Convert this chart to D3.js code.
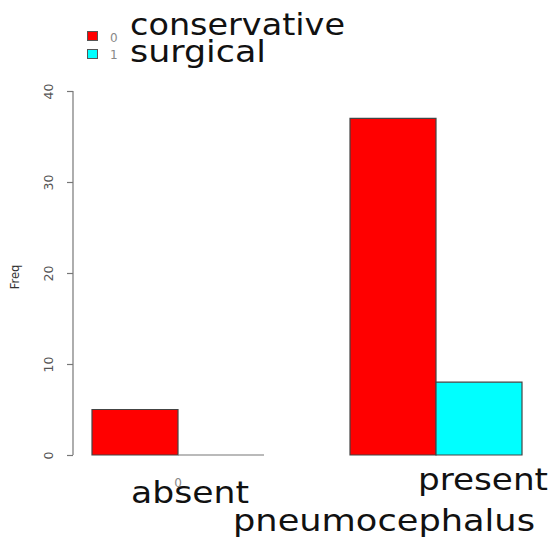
<!DOCTYPE html>
<html>
<head>
<meta charset="utf-8">
<script src="https://cdn.jsdelivr.net/npm/d3@7"></script>
<style>
  html, body { margin: 0; padding: 0; background: #fff; }
  svg { display: block; }
  text { font-family: "DejaVu Sans", Verdana, sans-serif; }
</style>
</head>
<body>
<svg id="chart" width="555" height="545"></svg>
<script>
// Pneumocephalus vs. treatment, counts per group
const groups = ["absent", "present"];
const groupCodes = ["0", "1"];
const seriesKeys = ["0", "1"];
const seriesNames = ["conservative", "surgical"];
const conservative = [5, 37];
const surgical = [0, 8];
const yTicks = [0, 10, 20, 30, 40];
const colors = ["#ff0000", "#00ffff"];

const svg = d3.select("#chart");

const y = d3.scaleLinear().domain([0, 40]).range([455, 91]);
const x0 = d3.scaleBand().domain(groups).range([92, 522]).paddingInner(1 / 3).paddingOuter(0);
const x1 = d3.scaleBand().domain(seriesKeys).range([0, x0.bandwidth()]);

const rows = groups.map((g, i) => ({
  group: g,
  values: [conservative[i], surgical[i]]
}));

// bars as closed paths, so a zero count still shows its outline on the baseline
function barPath(d) {
  const p = d3.path();
  const x = x1(d.key), w = x1.bandwidth();
  p.rect(x, y(d.value), w, y(0) - y(d.value));
  return p.toString();
}

const gGroups = svg.append("g").selectAll("g")
  .data(rows).join("g")
  .attr("transform", d => `translate(${x0(d.group)},0)`);

gGroups.selectAll("path")
  .data(d => d.values.map((v, k) => ({ key: seriesKeys[k], value: v, k })))
  .join("path")
  .attr("d", barPath)
  .attr("fill", d => colors[d.k])
  .attr("stroke", d => d.value === 0 ? "#777" : "#444")
  .attr("stroke-width", 1.2);

// y axis
const yAxis = d3.axisLeft(y).tickValues(yTicks).tickSize(6).tickPadding(10);
const ga = svg.append("g").attr("transform", "translate(73,0)").call(yAxis);
ga.select(".domain").attr("stroke", "#777").attr("stroke-width", 1.2).attr("d", `M0,${y(40)}V${y(0)}`);
ga.selectAll(".tick line").attr("stroke", "#777").attr("stroke-width", 1.2);
ga.selectAll(".tick text")
  .attr("fill", "#555")
  .style("font-size", "12.5px")
  .attr("text-anchor", "middle")
  .attr("transform", "translate(-24,0) rotate(-90)")
  .attr("x", 0)
  .attr("dy", "0.35em");

svg.append("text")
  .attr("transform", `translate(19,${(y(0) + y(40)) / 2 + 4}) rotate(-90)`)
  .attr("text-anchor", "middle")
  .attr("fill", "#333")
  .style("font-size", "11.5px")
  .text("Freq");

// small group code under first group
svg.append("text")
  .attr("x", x0("absent") + x0.bandwidth() / 2)
  .attr("y", 487)
  .attr("text-anchor", "middle")
  .attr("fill", "#888")
  .style("font-size", "12px")
  .text(groupCodes[0]);

// group labels
const groupLabelPos = { absent: { x: 131, y: 503, w: 118 }, present: { x: 418, y: 490, w: 130 } };
svg.append("g").selectAll("text")
  .data(groups).join("text")
  .attr("x", d => groupLabelPos[d].x)
  .attr("y", d => groupLabelPos[d].y)
  .attr("textLength", d => groupLabelPos[d].w)
  .attr("lengthAdjust", "spacingAndGlyphs")
  .attr("fill", "#111")
  .style("font-size", "31px")
  .text(d => d);

// x axis title
svg.append("text")
  .attr("x", 233).attr("y", 531)
  .attr("textLength", 302)
  .attr("lengthAdjust", "spacingAndGlyphs")
  .attr("fill", "#111")
  .style("font-size", "31px")
  .text("pneumocephalus");

// legend
const legend = svg.append("g");
const legRows = [
  { sw: 31, code: 42, name: 35, w: 215 },
  { sw: 49, code: 59, name: 62, w: 136 }
];
legend.selectAll("rect")
  .data(seriesKeys).join("rect")
  .attr("x", 87.5)
  .attr("y", (d, i) => legRows[i].sw + 0.5)
  .attr("width", 10)
  .attr("height", 9)
  .attr("fill", (d, i) => colors[i])
  .attr("stroke", "#555")
  .attr("stroke-width", 1);
legend.selectAll("text.code")
  .data(seriesKeys).join("text")
  .attr("class", "code")
  .attr("x", 110)
  .attr("y", (d, i) => legRows[i].code)
  .attr("fill", "#888")
  .style("font-size", "12px")
  .text(d => d);
legend.selectAll("text.name")
  .data(seriesNames).join("text")
  .attr("class", "name")
  .attr("x", 130)
  .attr("y", (d, i) => legRows[i].name)
  .attr("textLength", (d, i) => legRows[i].w)
  .attr("lengthAdjust", "spacingAndGlyphs")
  .attr("fill", "#111")
  .style("font-size", "31px")
  .text(d => d);
</script>
</body>
</html>
